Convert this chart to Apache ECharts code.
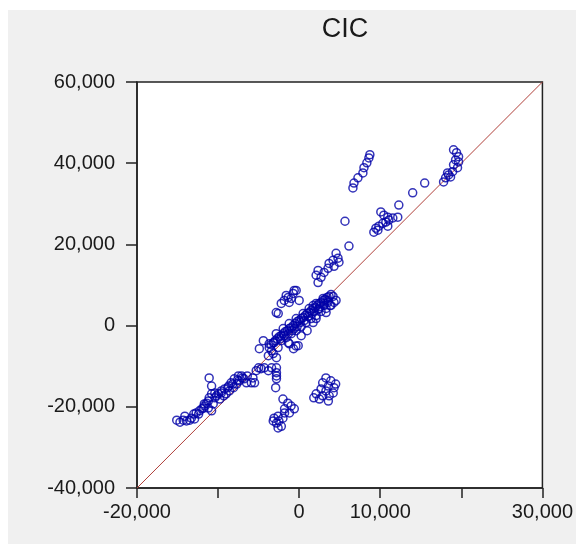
<!DOCTYPE html>
<html>
<head>
<meta charset="utf-8">
<script src="https://cdn.jsdelivr.net/npm/echarts@6/dist/echarts.min.js"></script>
<style>
html,body{margin:0;padding:0;background:#fff;}
#chart{width:576px;height:544px;}
</style>
</head>
<body>
<div id="chart"></div>
<script>
// ---- Data ----
var chartTitle = 'CIC';
var xTickValues = [-20000, -10000, 0, 10000, 20000, 30000];
var xTickLabels = ['-20,000', '', '0', '10,000', '', '30,000'];
var yTickValues = [-40000, -20000, 0, 20000, 40000, 60000];
var yTickLabels = ['-40,000', '-20,000', '0', '20,000', '40,000', '60,000'];

// reference (diagonal) line end points
var refLineX = [-20000, 30000];
var refLineY = [-40000, 60000];

// scatter points: x values
var xValues = [
  // lower-left band
  -15100,-14700,-14300,-13900,-13500,-14100,-13300,-13000,-12900,-12400,
  -12300,-12000,-11800,-11700,-11400,-11200,-11100,-10800,-11100,-10800,
  -10400,-10000,-9600,-9200,-8700,-8400,-8000,-7500,-7100,-6800,
  -6500,-5900,-9800,-9300,-9000,-8600,-8100,-7700,-7400,-10400,
  -10600,-10800,-11200,-5700,-5300,-5000,-4700,-4300,-3800,-3400,-5500,
  -10200,-9600,-8800,-8200,-7600,-7000,-6400,-11700,-12700,
  // center lower groups
  -3700,-3100,-2600,-3200,-2800,-3400,-3800,-1200,-700,-400,
  -2800,-2800,-2800,-2800,-2900,
  -2000,-1400,-1000,-600,-1200,-1800,
  -3100,-2600,-3200,-2800,-2500,-2000,-2200,-2600,-1800,
  3300,3900,2900,3600,4300,2700,3300,4200,2100,2900,3700,2500,1800,3600,4500,
  // main diagonal band
  -3690,-3440,-3190,-2950,-2700,-2460,-2210,-1970,-1720,-1470,
  -1230,-980,-740,-490,-250,0,250,490,740,980,
  1230,1470,1720,1970,2210,2460,2700,2950,3190,3440,3690,3930,
  -2210,-1600,-980,-370,250,860,1470,2090,2700,3320,3930,4300,4550,
  -2830,-1970,-1230,-370,490,1230,2090,2950,
  -4420,-4910,-1350,250,980,-120,1720,
  -1840,-1350,-860,-250,610,1110,1600,2330,3070,3560,-2330,-610,120,1840,2580,
  // upper-center group
  4550,4790,4180,3690,3560,3070,2330,2090,2700,2330,4910,4300,
  // left group
  -370,-740,-1350,-1840,-1230,0,-2210,-980,-2830,-2580,-610,-1600,
  // right of band
  1720,2460,3070,3560,3810,3320,2090,4180,
  // upper-right
  6630,6760,7250,7860,7990,8350,8600,8720,
  5650,6140,
  10070,10440,10930,11060,10690,10320,9830,9460,9210,12160,12290,11550,10930,9710,
  14000,15480,
  19040,19410,19660,19290,19040,19530,18920,18430,18060,17810,18670,19660,18300
];
// scatter points: y values
var yValues = [
  // lower-left band
  -23300,-23800,-23300,-23500,-23300,-22300,-22800,-21800,-23000,-21800,
  -21000,-20500,-20300,-19300,-19100,-18600,-17800,-16800,-12900,-14900,
  -17800,-16800,-16600,-15600,-14900,-14100,-13100,-12400,-12400,-13100,
  -14100,-14100,-18100,-17300,-16800,-16100,-15300,-14400,-13600,-16600,
  -19300,-21000,-20300,-12900,-11100,-10400,-10600,-10400,-11100,-10400,-14100,
  -17300,-16100,-15300,-14400,-13400,-12900,-12400,-19800,-21500,
  // center lower groups
  -4500,-4200,-5400,-6900,-7900,-6200,-7400,-4500,-5700,-5000,
  -10400,-11600,-12400,-13100,-15300,
  -18100,-19100,-19800,-20500,-21500,-20500,
  -22800,-22300,-23500,-24000,-23500,-22800,-24800,-25200,-21500,
  -12900,-13600,-14100,-14900,-15300,-15600,-16100,-16600,-16800,-17300,-17300,-18100,-17800,-18600,-14400,
  // main diagonal band
  -5450,-4700,-4210,-3710,-3220,-2720,-2480,-1980,-1490,-1240,
  -740,-500,0,500,990,1240,1730,1980,2480,2970,
  3220,3710,4210,4460,4950,5450,5690,6190,6440,6930,7180,7670,
  -3710,-2970,-1980,-1240,-250,740,1730,2480,3470,4210,4950,5690,6190,
  -1980,-740,500,1730,2970,4210,5450,6680,
  -3710,-5690,-4210,-2480,-1240,-4950,740,
  -2480,-1980,-1240,-250,1240,2230,2970,3960,4950,5690,-3220,-740,740,3470,4700,
  // upper-center group
  17800,16600,16100,15300,14100,13100,13600,12400,11900,10600,15600,14600,
  // left group
  8660,7920,6930,6190,5690,6190,5450,6680,3220,2970,8660,7430,
  // right of band
  4950,4210,5450,6190,4950,3220,1730,7180,
  // upper-right
  33900,35100,36400,37600,38900,40100,41300,42100,
  25700,19600,
  28000,27200,26700,26000,25500,25200,24500,24000,23000,26700,29700,26500,24500,23500,
  32700,35100,
  43300,42600,41600,40800,39600,38900,37900,37100,36400,35400,36600,40300,37600
];

// ---- Build options ----
var points = xValues.map(function (x, i) { return [x, yValues[i]]; });
var refLine = refLineX.map(function (x, i) { return [x, refLineY[i]]; });

function labelFor(values, labels) {
  return function (v) {
    var idx = values.indexOf(Math.round(v));
    return idx >= 0 ? labels[idx] : '';
  };
}

var FONT = "'Liberation Sans', Arial, sans-serif";
var chart = echarts.init(document.getElementById('chart'), null, {renderer: 'canvas'});
chart.setOption({
  backgroundColor: '#ffffff',
  animation: false,
  graphic: [{
    type: 'rect', z: -10, silent: true,
    shape: {x: 8, y: 10, width: 576, height: 544},
    style: {fill: '#f0f0f0'}
  }],
  title: {
    text: chartTitle,
    left: 340, top: 11, textAlign: 'center',
    textStyle: {fontFamily: FONT, fontSize: 27, fontWeight: 'normal', color: '#1a1a1a'}
  },
  grid: {
    left: 137, top: 82, width: 406, height: 406,
    show: true, backgroundColor: '#ffffff', borderColor: '#222', borderWidth: 1.5
  },
  xAxis: {
    type: 'value', min: -20000, max: 30000, interval: 10000,
    axisLine: {show: true, onZero: false, lineStyle: {color: '#222', width: 1.5}},
    axisTick: {show: true, inside: false, length: 10, lineStyle: {color: '#222', width: 1.5}},
    splitLine: {show: false},
    axisLabel: {
      margin: 14, fontFamily: FONT, fontSize: 20, color: '#1a1a1a',
      formatter: labelFor(xTickValues, xTickLabels), showMaxLabel: true, showMinLabel: true
    }
  },
  yAxis: {
    type: 'value', min: -40000, max: 60000, interval: 20000,
    axisLine: {show: true, onZero: false, lineStyle: {color: '#222', width: 1.5}},
    axisTick: {show: true, inside: false, length: 11, lineStyle: {color: '#222', width: 1.5}},
    splitLine: {show: false},
    axisLabel: {
      margin: 22, fontFamily: FONT, fontSize: 20, color: '#1a1a1a',
      formatter: labelFor(yTickValues, yTickLabels)
    }
  },
  series: [
    {
      type: 'line', data: refLine, symbol: 'none', z: 2,
      lineStyle: {color: '#b0403a', width: 1}
    },
    {
      type: 'scatter', data: points, symbol: 'circle', symbolSize: 8, z: 3,
      itemStyle: {color: 'rgba(255,255,255,0)', borderColor: '#0000a8', borderWidth: 1.5}
    }
  ]
});
</script>
</body>
</html>
